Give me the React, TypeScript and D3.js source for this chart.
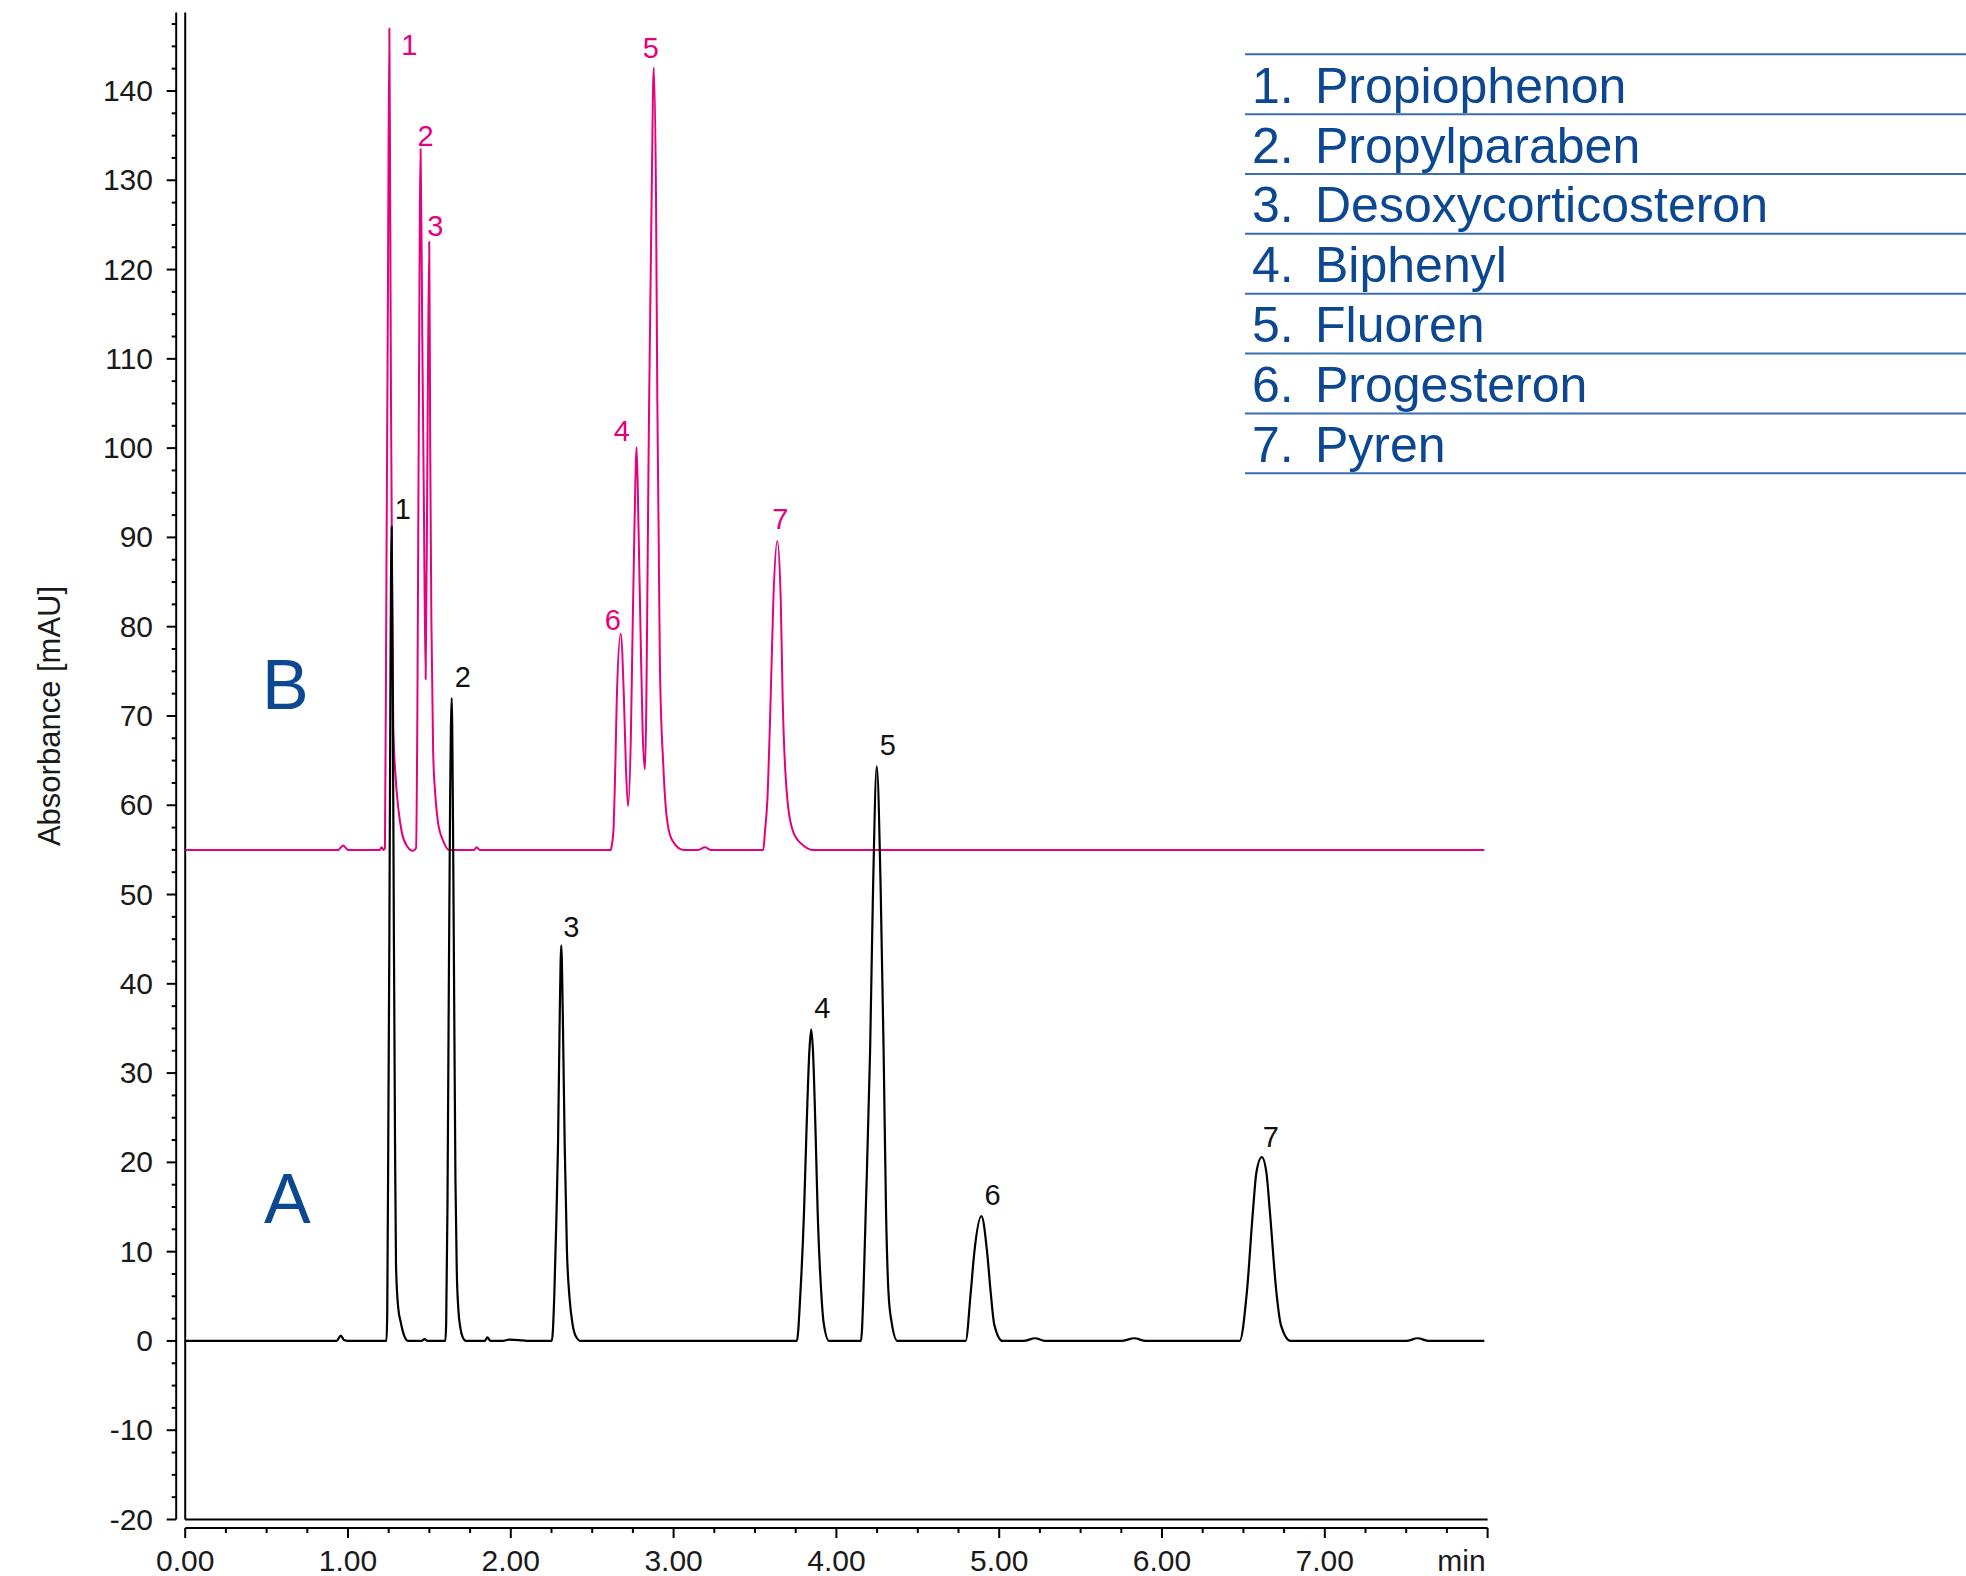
import React, { useEffect } from "react";
import * as d3 from "d3";

// ---------- data ----------
const traceA: [number, number][] = [
  [0, 0], [0.3, 0], [0.6, 0], [0.93, 0], [0.956, 0.6], [0.975, 0.1], [1.0, 0], [1.1, 0], [1.236, 0],
  [1.241, 3], [1.248, 25], [1.254, 45], [1.261, 75], [1.268, 91.2], [1.275, 72], [1.282, 45], [1.289, 22], [1.295, 8.4], [1.308, 3.8], [1.324, 2.1], [1.345, 0.6], [1.37, 0],
  [1.45, 0], [1.47, 0.2], [1.49, 0], [1.598, 0],
  [1.603, 2], [1.611, 15], [1.618, 36], [1.627, 60], [1.637, 72], [1.645, 58], [1.653, 36], [1.66, 18], [1.668, 8], [1.678, 3.5], [1.69, 1.5], [1.705, 0.4], [1.725, 0],
  [1.8, 0], [1.84, 0], [1.856, 0.4], [1.875, 0], [1.95, 0], [1.99, 0.15], [2.05, 0.1], [2.1, 0], [2.252, 0],
  [2.258, 1], [2.267, 5], [2.279, 13], [2.29, 22], [2.301, 37], [2.31, 44.3], [2.319, 37], [2.331, 22], [2.345, 10], [2.36, 5], [2.38, 1.8], [2.4, 0.5], [2.43, 0],
  [2.7, 0], [3.0, 0], [3.3, 0], [3.6, 0], [3.757, 0],
  [3.779, 5.4], [3.801, 14.4], [3.816, 23.4], [3.834, 32.5], [3.845, 34.9], [3.856, 32.5], [3.872, 23.4], [3.885, 14.4], [3.907, 5.4], [3.922, 2], [3.955, 0],
  [4.05, 0], [4.151, 0],
  [4.166, 5.4], [4.18, 14.4], [4.207, 32.5], [4.225, 50.5], [4.248, 64.35], [4.272, 50.5], [4.29, 32.5], [4.305, 14.4], [4.32, 5.4], [4.34, 2], [4.375, 0],
  [4.5, 0], [4.7, 0], [4.794, 0],
  [4.825, 5.4], [4.847, 9.9], [4.891, 13.98], [4.926, 9.9], [4.948, 5.4], [4.97, 1.8], [5.02, 0],
  [5.15, 0], [5.22, 0.3], [5.28, 0], [5.5, 0], [5.75, 0], [5.83, 0.3], [5.9, 0], [6.2, 0], [6.477, 0],
  [6.521, 5.4], [6.558, 14.4], [6.58, 18.9], [6.613, 20.6], [6.641, 18.9], [6.663, 14.4], [6.703, 5.4], [6.73, 1.8], [6.79, 0],
  [7.0, 0], [7.3, 0], [7.5, 0], [7.57, 0.3], [7.64, 0], [7.8, 0], [7.98, 0],
];

const traceB: [number, number][] = [
  [0, 55], [0.3, 55], [0.6, 55], [0.94, 55], [0.97, 55.5], [1.0, 55], [1.15, 55], [1.195, 55], [1.207, 55.3], [1.218, 55], [1.227, 55.2],
  [1.236, 85.7], [1.245, 116.3], [1.254, 147], [1.259, 128], [1.264, 105.6], [1.272, 81.3], [1.278, 69], [1.293, 63], [1.31, 59.5], [1.33, 57], [1.36, 55.5], [1.4, 54.9], [1.418, 55.2],
  [1.426, 70], [1.434, 100], [1.446, 133.5], [1.456, 113], [1.466, 94], [1.477, 74.1], [1.488, 100], [1.499, 123.1], [1.505, 100], [1.512, 81], [1.523, 66], [1.537, 61], [1.552, 58.2], [1.585, 56], [1.62, 55],
  [1.7, 55], [1.775, 55], [1.79, 55.3], [1.81, 55], [2.0, 55], [2.3, 55], [2.615, 55],
  [2.62, 55.5], [2.63, 57], [2.642, 64.4], [2.651, 71.9], [2.675, 79.2], [2.695, 71.9], [2.707, 64.4], [2.72, 59.9],
  [2.738, 68.2], [2.748, 79.4], [2.759, 90.6], [2.773, 100.1], [2.785, 90.6], [2.797, 79.4], [2.81, 68.2], [2.824, 64],
  [2.85, 105.5], [2.865, 127.9], [2.878, 142.6], [2.892, 127.9], [2.9, 105.5], [2.908, 90.6], [2.916, 75.6], [2.937, 64.4], [2.957, 58.8], [2.988, 56.2], [3.06, 55],
  [3.15, 55], [3.193, 55.3], [3.23, 55], [3.4, 55], [3.551, 55],
  [3.561, 57], [3.576, 60.6], [3.596, 71.9], [3.613, 83.1], [3.637, 89.6], [3.658, 83.1], [3.67, 71.9], [3.699, 60.6], [3.735, 57], [3.797, 55.5], [3.858, 55],
  [4.2, 55], [4.6, 55], [5.0, 55], [5.5, 55], [6.0, 55], [6.5, 55], [7.0, 55], [7.5, 55], [7.98, 55],
];

// peak apex (time, value) for labels
const peaksA = [
  { n: "1", t: 1.268, v: 91.2 },
  { n: "2", t: 1.637, v: 72 },
  { n: "3", t: 2.31, v: 44.3 },
  { n: "4", t: 3.845, v: 34.9 },
  { n: "5", t: 4.248, v: 64.35 },
  { n: "6", t: 4.891, v: 13.98 },
  { n: "7", t: 6.613, v: 20.6 },
];
const peaksB = [
  { n: "1", t: 1.254, v: 147 },
  { n: "2", t: 1.446, v: 133.5 },
  { n: "3", t: 1.499, v: 123.1 },
  { n: "4", t: 2.773, v: 100.1 },
  { n: "5", t: 2.878, v: 142.6 },
  { n: "6", t: 2.675, v: 79.2 },
  { n: "7", t: 3.637, v: 89.6 },
];

const compounds = [
  "Propiophenon",
  "Propylparaben",
  "Desoxycorticosteron",
  "Biphenyl",
  "Fluoren",
  "Progesteron",
  "Pyren",
];

const yTickValues = [-20, -10, 0, 10, 20, 30, 40, 50, 60, 70, 80, 90, 100, 110, 120, 130, 140];
const yTickLabels = ["-20", "-10", "0", "10", "20", "30", "40", "50", "60", "70", "80", "90", "100", "110", "120", "130", "140"];
const xTickValues = [0, 1, 2, 3, 4, 5, 6, 7, 8];
const xTickLabels = ["0.00", "1.00", "2.00", "3.00", "4.00", "5.00", "6.00", "7.00", "min"];
const yAxisTitle = "Absorbance [mAU]";
const seriesNames = ["A", "B"];

// ---------- layout / style ----------
const W = 1966;
const H = 1576;
const FONT = "'Liberation Sans', Arial, Helvetica, sans-serif";
const PINK = "#e5007e";
const BLUE_TEXT = "#0c4792";
const BLUE_LINE = "#3a6cb0";

// label offsets (px) relative to apex
const offA = [[3, -8], [3, -11], [2, -8], [3, -11], [3, -11], [3, -11], [1, -10]];
const offB = [[12, 26], [-3, -3], [-2, -6], [-23, -6], [-11, -10], [-16, -4], [-5, -12]];

export default function App() {
  useEffect(() => {
    document.body.style.margin = "0";
  }, []);

  const x = d3.scaleLinear().domain([0, 8]).range([185.2, 1487.6]);
  const y = d3.scaleLinear().domain([-20, 140]).range([1519.5, 91]);

  const line = d3
    .line<[number, number]>()
    .x((d) => x(d[0]))
    .y((d) => y(d[1]))
    .curve(d3.curveMonotoneX);

  const yTop = y(148.8);
  const yBottom = y(-20);
  const xLeft = x(0);
  const xRight = x(8);
  const axisX = xLeft - 9; // outer y-axis line
  const axisY = yBottom + 8.5; // outer x-axis line

  const yMinor = d3.range(-20, 148, 2.5);
  const xMinor = d3.range(0, 8.001, 0.25);

  const legendTop = 54.3;
  const legendStep = 59.85;

  return (
    <svg
      width={W}
      height={H}
      style={{ position: "absolute", left: 0, top: 0, background: "#fff" }}
      fontFamily={FONT}
    >
      <rect x={0} y={0} width={W} height={H} fill="#fff" />

      {/* frame lines */}
      <g stroke="#000" strokeWidth={2} fill="none">
        <line x1={axisX} x2={axisX} y1={yTop} y2={yBottom} />
        <line x1={xLeft} x2={xLeft} y1={yTop} y2={yBottom} />
        <line x1={xLeft} x2={xRight} y1={yBottom} y2={yBottom} />
        <line x1={xLeft} x2={xRight} y1={axisY} y2={axisY} />
        {yMinor.map((v) => {
          const major = Math.abs(v % 10) < 1e-6;
          return (
            <line key={"ym" + v} x1={axisX} x2={axisX - (major ? 9.5 : 4.5)} y1={y(v)} y2={y(v)} />
          );
        })}
        {xMinor.map((t) => {
          const major = Math.abs(t - Math.round(t)) < 1e-6;
          return (
            <line key={"xm" + t} x1={x(t)} x2={x(t)} y1={axisY} y2={axisY + (major ? 10 : 5)} />
          );
        })}
      </g>

      {/* y tick labels */}
      <g fontSize={30} fill="#1a1a1a" textAnchor="end">
        {yTickValues.map((v, i) => (
          <text key={"yl" + v} x={153} y={y(v) + 10}>
            {yTickLabels[i]}
          </text>
        ))}
      </g>

      {/* x tick labels */}
      <g fontSize={30} fill="#1a1a1a">
        {xTickValues.map((t, i) => (
          <text
            key={"xl" + t}
            x={i === xTickValues.length - 1 ? x(t) - 2 : x(t)}
            y={1571}
            textAnchor={i === xTickValues.length - 1 ? "end" : "middle"}
          >
            {xTickLabels[i]}
          </text>
        ))}
      </g>

      {/* y axis title */}
      <text
        transform={`translate(60,716) rotate(-90)`}
        textAnchor="middle"
        fontSize={31}
        fill="#1a1a1a"
      >
        {yAxisTitle}
      </text>

      {/* traces */}
      <path d={line(traceB) || ""} fill="none" stroke={PINK} strokeWidth={2} strokeLinejoin="round" />
      <path d={line(traceA) || ""} fill="none" stroke="#000" strokeWidth={2.2} strokeLinejoin="round" />

      {/* peak labels */}
      <g fontSize={29}>
        {peaksB.map((p, i) => (
          <text key={"pb" + i} x={x(p.t) + offB[i][0]} y={y(p.v) + offB[i][1]} fill={PINK}>
            {p.n}
          </text>
        ))}
        {peaksA.map((p, i) => (
          <text key={"pa" + i} x={x(p.t) + offA[i][0]} y={y(p.v) + offA[i][1]} fill="#111">
            {p.n}
          </text>
        ))}
      </g>

      {/* series labels */}
      <g fontSize={70} fill={BLUE_TEXT}>
        <text x={262} y={709}>{seriesNames[1]}</text>
        <text x={264} y={1223}>{seriesNames[0]}</text>
      </g>

      {/* legend */}
      <g>
        {d3.range(compounds.length + 1).map((i) => (
          <line
            key={"lg" + i}
            x1={1245}
            x2={W}
            y1={legendTop + i * legendStep}
            y2={legendTop + i * legendStep}
            stroke={BLUE_LINE}
            strokeWidth={2}
          />
        ))}
        {compounds.map((c, i) => (
          <g key={"lt" + i} fontSize={50} fill={BLUE_TEXT}>
            <text x={1252} y={102.7 + i * legendStep}>{`${i + 1}.`}</text>
            <text x={1315} y={102.7 + i * legendStep}>{c}</text>
          </g>
        ))}
      </g>
    </svg>
  );
}
